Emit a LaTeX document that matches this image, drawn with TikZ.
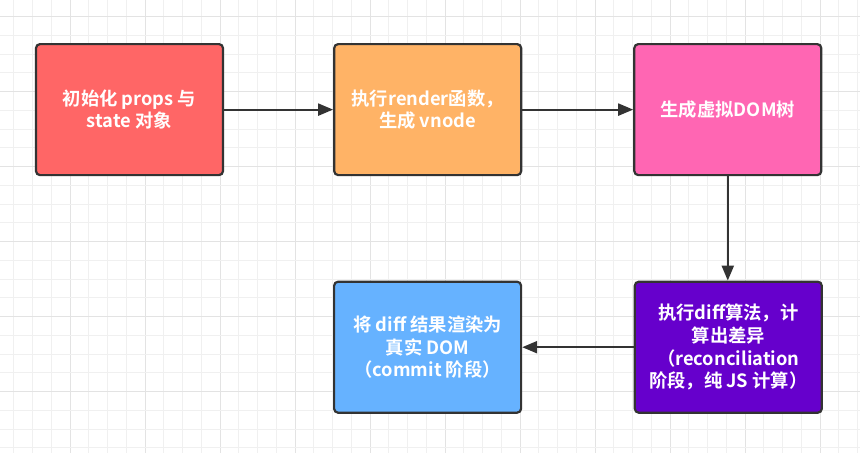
\documentclass[tikz,border=0pt]{standalone}
\usepackage{fontspec}
\setmainfont{Noto Sans CJK SC Bold}
\usetikzlibrary{arrows.meta}
\definecolor{gridminor}{HTML}{F0F0F0}
\definecolor{gridmajor}{HTML}{E3E3E3}
\definecolor{edgec}{HTML}{333333}
\definecolor{cA}{HTML}{FF6666}
\definecolor{cB}{HTML}{FFB366}
\definecolor{cC}{HTML}{FF66B3}
\definecolor{cD}{HTML}{6600CC}
\definecolor{cE}{HTML}{66B2FF}
\tikzset{
  flowbox/.style={draw=edgec, line width=2.2pt, rounded corners=4pt,
    minimum width=187pt, minimum height=131pt, inner sep=0pt,
    text=white, font=\fontsize{18.3}{22.7}\selectfont, align=center},
  flowarrow/.style={draw=edgec, line width=2.2pt,
    -{Triangle[length=15pt,width=12pt]}, shorten >=0pt},
}
\begin{document}
\begin{tikzpicture}[x=1pt,y=-1pt]
\useasboundingbox (0,0) rectangle (860,453);
\fill[white] (0,0) rectangle (860,453);
% grid
\foreach \i in {0,...,45} {
  \pgfmathsetmacro{\xx}{13.75+18.75*\i}
  \pgfmathtruncatemacro{\m}{mod(\i,4)==3}
  \ifnum\m=1
    \draw[gridmajor, line width=1pt] (\xx,0) -- (\xx,453);
  \else
    \draw[gridminor, line width=1pt] (\xx,0) -- (\xx,453);
  \fi
}
\foreach \j in {0,...,23} {
  \pgfmathsetmacro{\yy}{16.7+18.75*\j}
  \pgfmathtruncatemacro{\m}{mod(\j,4)==0}
  \ifnum\m=1
    \draw[gridmajor, line width=1pt] (0,\yy) -- (860,\yy);
  \else
    \draw[gridminor, line width=1pt] (0,\yy) -- (860,\yy);
  \fi
}
% boxes
\node[flowbox, fill=cA] (a) at (129.5,109.6) {初始化 props 与\\state 对象};
\node[flowbox, fill=cB] (b) at (427.7,109.6) {执行render函数，\\生成 vnode};
\node[flowbox, fill=cC] (c) at (727.8,109.6) {生成虚拟DOM树};
\node[flowbox, fill=cD] (d) at (728.3,347.2) {执行diff算法，计\\算出差异\\（reconciliation\\阶段，纯 JS 计算）};
\node[flowbox, fill=cE] (e) at (427.6,347.2) {将 diff 结果渲染为\\真实 DOM\\（commit 阶段）};
% arrows
\draw[flowarrow] (a.east) -- (b.west);
\draw[flowarrow] (b.east) -- (c.west);
\draw[flowarrow] (c.south) -- (c.south |- d.north);
\draw[flowarrow] (d.west) -- (d.west -| e.east);
\end{tikzpicture}
\end{document}
